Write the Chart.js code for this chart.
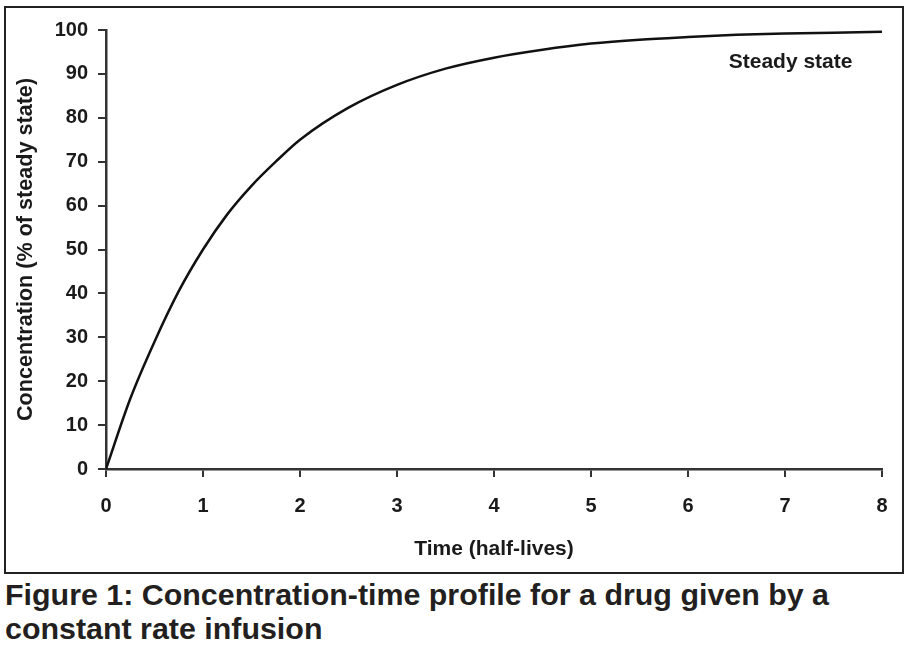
<!DOCTYPE html>
<html>
<head>
<meta charset="utf-8">
<script src="https://cdn.jsdelivr.net/npm/chart.js@4"></script>
<style>
  body { margin: 0; background: #fff; width: 909px; height: 651px; overflow: hidden; }
  #frame { position: absolute; left: 4px; top: 6px; width: 896px; height: 564px; border: 2px solid #222; }
  #caption { position: absolute; left: 5px; top: 577px; margin: 0;
    font: bold 30.4px "Liberation Sans", Arial, sans-serif; line-height: 34px; color: #231f20; }
</style>
</head>
<body>
<div id="frame"><canvas id="infusion-chart" width="896" height="564"></canvas></div>
<p id="caption">Figure 1: Concentration-time profile for a drug given by a<br>constant rate infusion</p>
<script>
// Время в периодах полувыведения и концентрация (% от равновесной)
const halfLives = [0, 0.25, 0.5, 0.75, 1, 1.25, 1.5, 1.75, 2, 2.5, 3, 3.5, 4, 4.5, 5, 5.5, 6, 6.5, 7, 7.5, 8];
const concentration = [0, 16, 29, 40.5, 50, 58, 64.5, 70, 75, 82.3, 87.5, 91.2, 93.7, 95.5, 96.9, 97.8, 98.4, 98.9, 99.2, 99.4, 99.6];
const xTicks = [0, 1, 2, 3, 4, 5, 6, 7, 8];
const yTicks = [0, 10, 20, 30, 40, 50, 60, 70, 80, 90, 100];

const axisColor = '#333';
const fontFamily = '"Liberation Sans", Arial, sans-serif';

// Подпись "Steady state" внутри области графика
const steadyLabel = {
  id: 'steadyLabel',
  afterDraw(chart) {
    const { ctx, scales } = chart;
    ctx.save();
    ctx.font = 'bold 21px ' + fontFamily;
    ctx.fillStyle = '#1a1a1a';
    ctx.textAlign = 'left';
    ctx.textBaseline = 'alphabetic';
    ctx.fillText('Steady state', scales.x.getPixelForValue(6.42), scales.y.getPixelForValue(91.4));
    ctx.restore();
  }
};

new Chart(document.getElementById('infusion-chart'), {
  type: 'line',
  data: {
    datasets: [{
      data: halfLives.map((t, i) => ({ x: t, y: concentration[i] })),
      borderColor: '#111',
      borderWidth: 2.5,
      pointRadius: 0,
      cubicInterpolationMode: 'monotone',
      fill: false
    }]
  },
  options: {
    responsive: false,
    animation: false,
    layout: { padding: { top: 22, right: 20, left: 0, bottom: 0 } },
    plugins: { legend: { display: false }, tooltip: { enabled: false } },
    scales: {
      x: {
        type: 'linear',
        min: 0, max: 8,
        afterBuildTicks: s => { s.ticks = xTicks.map(v => ({ value: v })); },
        afterFit: s => { s.height = 103; s.paddingLeft = 0; s.paddingRight = 0; },
        grid: { drawOnChartArea: false, drawTicks: true, tickLength: 8, color: axisColor, lineWidth: 2 },
        border: { display: true, color: axisColor, width: 2.5 },
        ticks: { color: '#1a1a1a', padding: 17, font: { family: fontFamily, size: 20, weight: 'bold' } },
        title: {
          display: true, text: 'Time (half-lives)', color: '#1a1a1a',
          font: { family: fontFamily, size: 21, weight: 'bold' }, padding: { top: 0, bottom: 10 }
        }
      },
      y: {
        min: 0, max: 100,
        afterBuildTicks: s => { s.ticks = yTicks.map(v => ({ value: v })); },
        afterFit: s => { s.width = 100; s.paddingTop = 0; s.paddingBottom = 0; },
        grid: { drawOnChartArea: false, drawTicks: true, tickLength: 8, color: axisColor, lineWidth: 2 },
        border: { display: true, color: axisColor, width: 2.5 },
        ticks: { color: '#1a1a1a', padding: 10, font: { family: fontFamily, size: 20, weight: 'bold' } },
        title: {
          display: true, text: 'Concentration (% of steady state)', color: '#1a1a1a',
          font: { family: fontFamily, size: 21.6, weight: 'bold' }, padding: { top: 7, bottom: 0 }
        }
      }
    }
  },
  plugins: [steadyLabel]
});
</script>
</body>
</html>
